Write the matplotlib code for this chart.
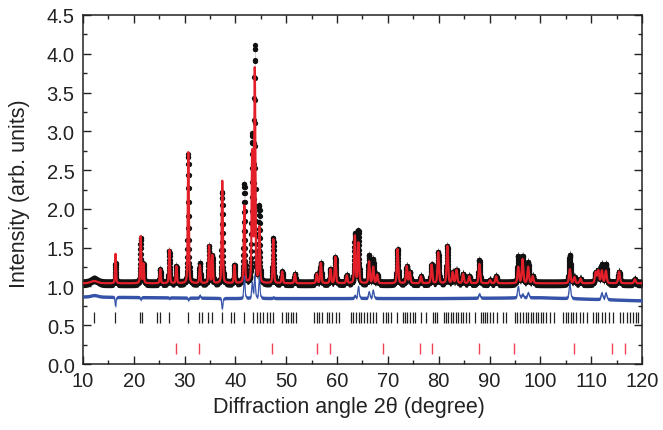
import numpy as np
import matplotlib
matplotlib.use("Agg")
import matplotlib.pyplot as plt
from matplotlib.ticker import MultipleLocator

# ---- data ----
peak_pos = [12.2, 16.4, 21.35, 21.9, 25.2, 27.0, 28.37, 30.72, 33.0, 34.8, 35.45,
            37.4, 39.8, 41.75, 43.3, 43.8, 44.7, 47.45, 49.2, 51.7, 56.0, 56.8,
            58.7, 59.65, 61.9, 63.5, 64.2, 66.3, 67.1, 67.9, 71.9, 73.7, 74.3,
            76.5, 78.6, 79.9, 81.7, 82.75, 83.5, 84.8, 86.0, 88.0, 90.1, 91.3,
            95.65, 96.5, 97.6, 98.5, 105.8, 106.7, 107.9, 110.9, 111.4, 112.1,
            112.9, 115.5, 118.6]
calc_top = [1.07, 1.42, 1.65, 1.29, 1.22, 1.47, 1.26, 2.73, 1.27, 1.52, 1.40,
            2.36, 1.27, 2.04, 2.70, 3.78, 1.75, 1.61, 1.19, 1.16, 1.16, 1.30,
            1.22, 1.38, 1.14, 1.65, 1.56, 1.32, 1.25, 1.15, 1.48, 1.26, 1.18,
            1.13, 1.28, 1.44, 1.52, 1.18, 1.21, 1.16, 1.13, 1.29, 1.08, 1.13,
            1.25, 1.35, 1.25, 1.13, 1.22, 1.12, 1.10, 1.18, 1.20, 1.20,
            1.20, 1.19, 1.09]
obs_top = [1.09, 1.30, 1.62, 1.29, 1.22, 1.46, 1.26, 2.70, 1.30, 1.52, 1.40,
           2.22, 1.27, 2.32, 2.90, 4.06, 2.02, 1.62, 1.19, 1.16, 1.16, 1.30,
           1.22, 1.38, 1.14, 1.68, 1.71, 1.40, 1.35, 1.15, 1.48, 1.26, 1.18,
           1.13, 1.28, 1.44, 1.52, 1.18, 1.21, 1.16, 1.13, 1.34, 1.08, 1.13,
           1.39, 1.39, 1.31, 1.13, 1.41, 1.12, 1.10, 1.18, 1.20, 1.28,
           1.28, 1.19, 1.09]
background = 1.04
obs_band = 0.058      # half-thickness of the scattered observed-point band
diff_band = 0.022     # half-thickness of the noisy difference curve
diff_base_x = [10, 40, 80, 100, 120]
diff_base_y = [0.87, 0.85, 0.85, 0.86, 0.82]

phase1_ticks = [12.16, 16.3, 21.2, 21.7, 24.6, 25.15, 27.0, 30.7, 32.8, 33.35, 34.65,
                35.3, 37.4, 39.06, 39.7, 41.7, 43.5, 44.2, 44.8, 45.35, 46.3, 46.8,
                47.3, 49.1, 49.9, 50.4, 50.9, 51.4, 51.9, 55.5, 56.0, 56.5, 57.1,
                57.95, 58.5, 59.05, 59.8, 60.4, 62.7, 63.2, 63.65, 64.25, 64.7,
                65.2, 65.8, 66.5, 67.1, 67.65, 69.1, 69.6, 70.1, 70.7, 71.7, 73.0,
                73.4, 73.8, 74.35, 74.9, 75.3, 76.6, 77.5, 78.8, 79.3, 79.7, 81.0,
                81.4, 81.9, 82.35, 82.9, 83.4, 83.85, 84.3, 84.8, 85.4, 85.9, 87.1,
                88.25, 88.65, 89.1, 89.55, 90.1, 90.75, 91.4, 92.7, 93.2, 95.1,
                95.5, 96.0, 96.6, 97.1, 97.6, 98.15, 98.6, 99.1, 99.6, 100.05,
                100.6, 101.2, 101.9, 102.7, 104.5, 105.0, 105.5, 106.0, 106.5,
                107.1, 107.8, 108.45, 109.1, 110.4, 110.9, 111.4, 112.05, 112.7,
                113.6, 114.35, 115.7, 116.3, 117.0, 117.6, 118.3, 118.8, 119.3]
phase2_ticks = [28.3, 32.8, 47.2, 56.0, 58.6, 69.0, 76.3, 78.6, 88.0, 94.8,
                106.6, 114.1, 116.6]

# ---- profile model built from the read peak list ----
two_theta = np.arange(10, 120.0001, 0.02)

def profile(tops):
    y = np.full_like(two_theta, background)
    for p, t in zip(peak_pos, tops):
        w = 0.20 + 0.0016 * p
        if p < 13:
            w = 1.6
        h = t - background
        g = np.exp(-4 * np.log(2) * ((two_theta - p) / w) ** 2)
        l = 1.0 / (1 + 4 * ((two_theta - p) / w) ** 2)
        y += h * (0.65 * g + 0.35 * l)
    return y

y_calc = profile(calc_top)
y_obs = profile(obs_top)
y_diff = y_obs - y_calc + np.interp(two_theta, diff_base_x, diff_base_y)

plt.rcParams['font.family'] = ['Liberation Sans', 'DejaVu Sans']
fig = plt.figure(figsize=(6.63, 4.31), dpi=100)
ax = fig.add_axes([0.1252, 0.1531, 0.9683 - 0.1252, 0.9629 - 0.1531])

ax.fill_between(two_theta, y_obs - obs_band, y_obs + obs_band, color='#111111',
                lw=0, zorder=2)
ax.plot(two_theta, y_obs, 'o', color='#111111', ms=3.8, mew=0, zorder=2)
ax.plot(two_theta, y_calc, color='#e3202a', lw=1.6, zorder=3)
ax.fill_between(two_theta, y_diff - diff_band, y_diff + diff_band, color='#3553a8',
                lw=0, zorder=3)
ax.plot(two_theta, y_diff, color='#3553a8', lw=0.8, zorder=3)

ax.vlines(phase1_ticks, 0.53, 0.67, color='#222222', lw=0.9, zorder=2)
ax.vlines(phase2_ticks, 0.13, 0.27, color='#ee4455', lw=1.0, zorder=2)

ax.set_xlim(10, 120)
ax.set_ylim(0, 4.5)
ax.xaxis.set_major_locator(MultipleLocator(10))
ax.xaxis.set_minor_locator(MultipleLocator(5))
ax.yaxis.set_major_locator(MultipleLocator(0.5))
ax.yaxis.set_minor_locator(MultipleLocator(0.25))
ax.yaxis.set_major_formatter(matplotlib.ticker.FormatStrFormatter('%.1f'))
ax.tick_params(which='both', direction='in', top=True, right=True, width=1.0,
               labelsize=14.5, colors='#222222')
ax.tick_params(axis='y', pad=6)
ax.tick_params(axis='x', pad=5)
ax.tick_params(which='major', length=6)
ax.tick_params(which='minor', length=3)
for s in ax.spines.values():
    s.set_linewidth(1.1)
    s.set_color('#222222')

ax.set_xlabel('Diffraction angle 2θ (degree)', fontsize=15.5, color='#222222')
ax.set_ylabel('Intensity (arb. units)', fontsize=15.5, color='#222222')
ax.xaxis.set_label_coords(0.475, -0.092)
ax.yaxis.set_label_coords(-0.095, 0.49)

fig.savefig('out.png', dpi=100)
